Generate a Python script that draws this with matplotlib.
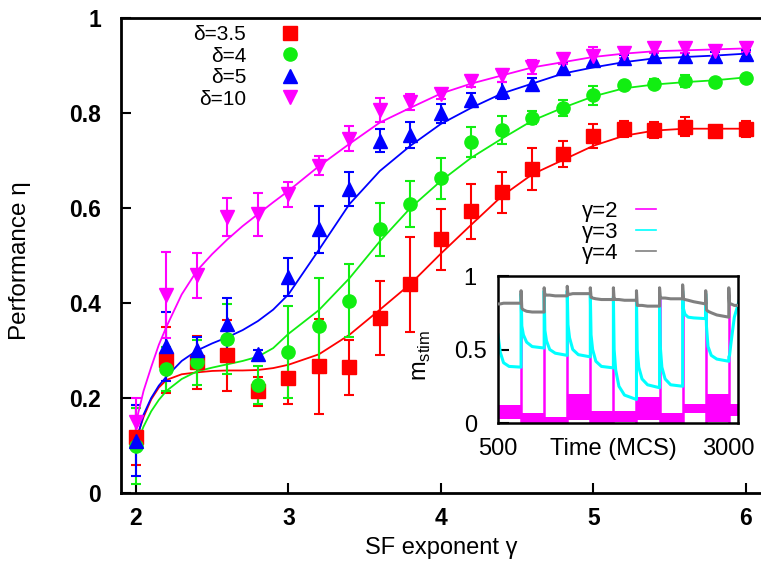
import numpy as np
import matplotlib.pyplot as plt
from matplotlib.lines import Line2D

plt.rcParams['font.family'] = ['Liberation Sans', 'DejaVu Sans']
plt.rcParams['mathtext.fontset'] = 'custom'
plt.rcParams['mathtext.rm'] = 'Liberation Sans'

# ---- main panel data: performance vs SF exponent ----
gamma = [2.0, 2.2, 2.4, 2.6, 2.8, 3.0, 3.2, 3.4, 3.6, 3.8, 4.0,
         4.2, 4.4, 4.6, 4.8, 5.0, 5.2, 5.4, 5.6, 5.8, 6.0]

eta_d35 = [0.118, 0.280, 0.275, 0.290, 0.214, 0.243, 0.267, 0.265, 0.369, 0.440, 0.534,
           0.593, 0.633, 0.682, 0.714, 0.752, 0.767, 0.765, 0.771, 0.763, 0.767]
err_d35 = [0.060, 0.070, 0.055, 0.075, 0.030, 0.055, 0.100, 0.058, 0.078, 0.100, 0.064,
           0.058, 0.043, 0.045, 0.027, 0.025, 0.017, 0.017, 0.020, 0.010, 0.017]

eta_d4 = [0.100, 0.261, 0.275, 0.324, 0.227, 0.297, 0.352, 0.405, 0.555, 0.608, 0.663,
          0.739, 0.764, 0.790, 0.811, 0.837, 0.858, 0.862, 0.867, 0.866, 0.873]
err_d4 = [0.080, 0.047, 0.048, 0.073, 0.040, 0.097, 0.100, 0.077, 0.055, 0.048, 0.043,
          0.032, 0.030, 0.014, 0.017, 0.020, 0.006, 0.010, 0.012, 0.006, 0.008]

eta_d5 = [0.110, 0.309, 0.301, 0.356, 0.292, 0.455, 0.555, 0.640, 0.742, 0.754, 0.799,
          0.828, 0.847, 0.862, 0.894, 0.911, 0.915, 0.919, 0.919, 0.919, 0.925]
err_d5 = [0.075, 0.073, 0.028, 0.054, 0.010, 0.040, 0.050, 0.036, 0.025, 0.028, 0.020,
          0.015, 0.018, 0.012, 0.012, 0.015, 0.008, 0.010, 0.008, 0.010, 0.008]

eta_d10 = [0.150, 0.417, 0.458, 0.581, 0.587, 0.629, 0.689, 0.746, 0.807, 0.824, 0.840,
           0.867, 0.879, 0.897, 0.913, 0.921, 0.926, 0.936, 0.937, 0.930, 0.936]
err_d10 = [0.050, 0.090, 0.048, 0.040, 0.045, 0.026, 0.020, 0.027, 0.025, 0.017, 0.010,
           0.013, 0.013, 0.015, 0.010, 0.017, 0.010, 0.010, 0.010, 0.010, 0.008]

# fitted curves
fit_x = [2.0, 2.05, 2.1, 2.15, 2.2, 2.3, 2.4, 2.5, 2.6, 2.7, 2.8, 2.9, 3.0, 3.2, 3.4, 3.6,
         3.8, 4.0, 4.2, 4.4, 4.6, 4.8, 5.0, 5.2, 5.4, 5.6, 5.8, 6.0]
fit_d35 = [0.112, 0.160, 0.197, 0.222, 0.238, 0.250, 0.254, 0.257, 0.258, 0.258, 0.259,
           0.263, 0.270, 0.292, 0.333, 0.386, 0.440, 0.504, 0.565, 0.625, 0.671, 0.701,
           0.731, 0.752, 0.763, 0.767, 0.767, 0.767]
fit_d4 = [0.100, 0.140, 0.172, 0.196, 0.215, 0.240, 0.256, 0.264, 0.271, 0.278, 0.287,
          0.305, 0.335, 0.385, 0.452, 0.530, 0.600, 0.657, 0.706, 0.746, 0.784, 0.811,
          0.835, 0.852, 0.860, 0.865, 0.869, 0.875]
fit_d5 = [0.106, 0.165, 0.200, 0.226, 0.245, 0.278, 0.300, 0.315, 0.328, 0.343, 0.362,
          0.386, 0.418, 0.512, 0.608, 0.678, 0.731, 0.777, 0.811, 0.841, 0.862, 0.883,
          0.896, 0.907, 0.915, 0.918, 0.921, 0.925]
fit_d10 = [0.148, 0.215, 0.265, 0.312, 0.350, 0.418, 0.468, 0.503, 0.534, 0.562, 0.587,
           0.612, 0.636, 0.688, 0.735, 0.780, 0.811, 0.841, 0.862, 0.879, 0.896, 0.907,
           0.918, 0.925, 0.930, 0.932, 0.934, 0.936]

labels = ["\u03b4=3.5", "\u03b4=4", "\u03b4=5", "\u03b4=10"]
colors = ["#ff0000", "#11ee11", "#0000ff", "#ff00ff"]
markers = ["s", "o", "^", "v"]

# ---- inset data: m_stim time series ----
seg_start = [500, 750, 1000, 1250, 1500, 1750, 2000, 2250, 2500, 2750, 3000]
seg_offsets = [0, 8, 25, 60, 120, 250]

m_g3 = [[0.60, 0.56, 0.48, 0.41, 0.385, 0.38],
        [0.88, 0.66, 0.60, 0.55, 0.52, 0.51],
        [0.90, 0.63, 0.56, 0.50, 0.475, 0.46],
        [0.90, 0.67, 0.58, 0.50, 0.465, 0.45],
        [0.88, 0.60, 0.50, 0.42, 0.385, 0.375],
        [0.86, 0.50, 0.36, 0.25, 0.19, 0.16],
        [0.85, 0.50, 0.38, 0.30, 0.26, 0.24],
        [0.87, 0.52, 0.38, 0.30, 0.26, 0.25],
        [0.90, 0.78, 0.74, 0.72, 0.715, 0.71],
        [0.88, 0.66, 0.52, 0.46, 0.435, 0.42],
        [0.45, 0.46, 0.55, 0.72, 0.85, 0.85]]

m_g4 = [[0.81, 0.81, 0.81, 0.815, 0.815, 0.815],
        [0.90, 0.78, 0.77, 0.76, 0.755, 0.755],
        [0.92, 0.87, 0.87, 0.87, 0.865, 0.865],
        [0.93, 0.875, 0.875, 0.88, 0.88, 0.88],
        [0.92, 0.855, 0.85, 0.845, 0.84, 0.84],
        [0.92, 0.845, 0.84, 0.84, 0.835, 0.835],
        [0.90, 0.80, 0.80, 0.80, 0.795, 0.795],
        [0.92, 0.85, 0.85, 0.85, 0.845, 0.845],
        [0.94, 0.845, 0.84, 0.835, 0.825, 0.81],
        [0.90, 0.77, 0.76, 0.75, 0.735, 0.72],
        [0.92, 0.81, 0.81, 0.80, 0.80, 0.80]]

m_g2_lo = [0.03, 0.00, 0.00, 0.02, 0.00, 0.01, 0.02, 0.00, 0.07, 0.01, 0.05]
m_g2_hi = [0.12, 0.07, 0.04, 0.20, 0.08, 0.08, 0.18, 0.07, 0.13, 0.20, 0.13]
m_g2_peak = [0.10, 0.80, 0.90, 0.87, 0.80, 0.80, 0.84, 0.85, 0.87, 0.75, 0.87]

fig = plt.figure(figsize=(7.61, 5.65), dpi=100)
ax = fig.add_axes([0.1586, 0.1274, 0.8414, 0.8407])

for y, e, fy, c, m, lab in zip([eta_d35, eta_d4, eta_d5, eta_d10],
                               [err_d35, err_d4, err_d5, err_d10],
                               [fit_d35, fit_d4, fit_d5, fit_d10],
                               colors, markers, labels):
    ax.errorbar(gamma, y, yerr=e, fmt="none", ecolor=c, elinewidth=1.5,
                capsize=3.8, capthick=1.5, zorder=2)
    ax.plot(fit_x, fy, "-", color=c, lw=1.3, zorder=2)
    ax.plot(gamma, y, linestyle="none", marker=m, ms=9.5, color=c,
            mec=c, label=lab, zorder=3)

ax.set_xlim(1.9, 6.1)
ax.set_ylim(0, 1)
ax.set_xticks([2, 3, 4, 5, 6])
ax.set_yticks([0, 0.2, 0.4, 0.6, 0.8, 1])
ax.set_yticklabels(["0", "0.2", "0.4", "0.6", "0.8", "1"])
ax.tick_params(direction="in", length=7, width=1.5, labelsize=16.5)
ax.tick_params(axis="x", pad=10)
ax.tick_params(axis="y", pad=14)
for lbl in ax.get_xticklabels() + ax.get_yticklabels():
    lbl.set_fontweight("bold")
for s in ["left", "bottom", "top"]:
    ax.spines[s].set_linewidth(2)
ax.spines["right"].set_visible(False)

ax.set_xlabel("SF exponent \u03b3", fontsize=17)
ax.set_ylabel("Performance \u03b7", fontsize=17.5)
ax.xaxis.set_label_coords(0.5, -0.092)
ax.yaxis.set_label_coords(-0.14, 0.49)

ax.legend(loc="upper right", bbox_to_anchor=(0.30, 0.985), frameon=False,
          markerfirst=False, fontsize=15, handlelength=2.2, handletextpad=1.0,
          labelspacing=0.12, borderpad=0, borderaxespad=0)

# ---- inset ----
axin = fig.add_axes([0.6544, 0.2513, 0.3154, 0.2602])

t_all, g3_all, g4_all = [], [], []
for t0, v3, v4 in zip(seg_start, m_g3, m_g4):
    t_all += [t0 + o for o in seg_offsets]
    g3_all += v3
    g4_all += v4

band_t, band_lo, band_hi = [], [], []
for i, t0 in enumerate(seg_start):
    t1 = seg_start[i + 1] if i + 1 < len(seg_start) else 3100
    band_t += [t0, t1]
    band_lo += [m_g2_lo[i], m_g2_lo[i]]
    band_hi += [m_g2_hi[i], m_g2_hi[i]]

axin.fill_between(band_t, band_lo, band_hi, color="#ff00ff", lw=0, zorder=1)
axin.vlines(seg_start[1:], [0.0] * (len(seg_start) - 1), m_g2_peak[1:],
            color="#ff00ff", lw=1.8, zorder=1)
axin.plot(t_all, g3_all, color="#00ffff", lw=2.2, zorder=2)
axin.plot(t_all, g4_all, color="#808080", lw=2.2, zorder=3)

axin.set_xlim(500, 3100)
axin.set_ylim(0, 1)
axin.set_xticks([500, 3000])
axin.set_yticks([0, 0.5, 1])
axin.set_yticklabels(["0", "0.5", "1"])
axin.tick_params(axis="y", direction="in", length=8, width=1.5, labelsize=17, pad=20)
for lbl in axin.get_yticklabels():
    lbl.set_horizontalalignment("center")
axin.tick_params(axis="x", direction="in", length=0, labelsize=17, pad=11)
for s in axin.spines.values():
    s.set_linewidth(1.8)
axin.set_xlabel("Time (MCS)", fontsize=17)
axin.xaxis.set_label_coords(0.48, -0.1)
axin.set_ylabel(r"m$_{\mathregular{stim}}$", fontsize=17)
axin.yaxis.set_label_coords(-0.27, 0.46)

gh = [Line2D([], [], color=c, lw=1.2) for c in ["#ff00ff", "#00ffff", "#808080"]]
axin.legend(gh, ["\u03b3=2", "\u03b3=3", "\u03b3=4"], loc="lower right",
            bbox_to_anchor=(0.66, 1.08), frameon=False, markerfirst=False,
            fontsize=16, handlelength=0.9, handletextpad=0.8,
            labelspacing=0.0, borderpad=0, borderaxespad=0)

fig.savefig("out.png", dpi=100)
